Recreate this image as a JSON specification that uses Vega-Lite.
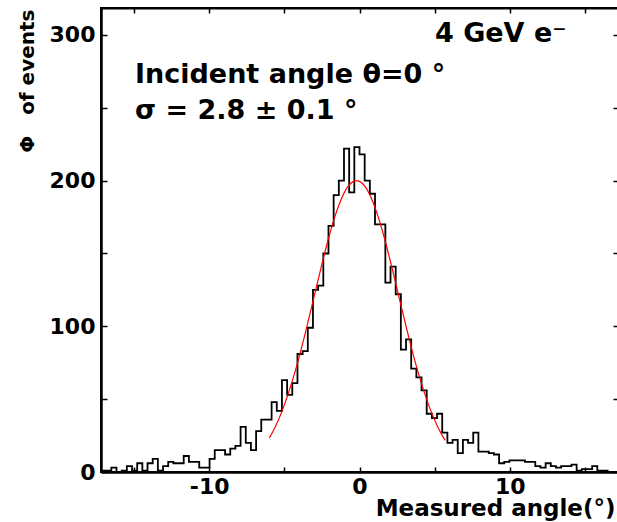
{
  "$schema": "https://vega.github.io/schema/vega-lite/v6.json",
  "width": 517,
  "height": 464,
  "autosize": {"type": "none"},
  "padding": {"left": 101, "top": 8, "right": 0, "bottom": 50},
  "background": "white",
  "config": {
    "view": {"stroke": "black", "strokeWidth": 2},
    "axis": {
      "grid": false,
      "domainColor": "black",
      "tickColor": "black",
      "labelColor": "black",
      "titleColor": "black",
      "labelFont": "DejaVu Sans",
      "titleFont": "DejaVu Sans",
      "labelFontWeight": "bold",
      "titleFontWeight": "bold"
    }
  },
  "datasets": {
    "hist": [
      {"angle": -17.2, "events": 1}, {"angle": -16.856, "events": 1}, {"angle": -16.512, "events": 3}, {"angle": -16.168, "events": 0},
      {"angle": -15.824, "events": 1}, {"angle": -15.48, "events": 4}, {"angle": -15.136, "events": 1}, {"angle": -14.792, "events": 6},
      {"angle": -14.448, "events": 1}, {"angle": -14.104, "events": 6}, {"angle": -13.76, "events": 9}, {"angle": -13.416, "events": 1},
      {"angle": -13.072, "events": 4}, {"angle": -12.728, "events": 7}, {"angle": -12.384, "events": 6}, {"angle": -12.04, "events": 6},
      {"angle": -11.696, "events": 11}, {"angle": -11.352, "events": 7}, {"angle": -11.008, "events": 7}, {"angle": -10.664, "events": 3},
      {"angle": -10.32, "events": 3}, {"angle": -9.976, "events": 9}, {"angle": -9.632, "events": 15}, {"angle": -9.288, "events": 15},
      {"angle": -8.944, "events": 12}, {"angle": -8.6, "events": 16}, {"angle": -8.256, "events": 18}, {"angle": -7.912, "events": 31},
      {"angle": -7.568, "events": 20}, {"angle": -7.224, "events": 15}, {"angle": -6.88, "events": 28}, {"angle": -6.536, "events": 36},
      {"angle": -6.192, "events": 36}, {"angle": -5.848, "events": 48}, {"angle": -5.504, "events": 42}, {"angle": -5.16, "events": 63},
      {"angle": -4.816, "events": 53}, {"angle": -4.472, "events": 61}, {"angle": -4.128, "events": 81}, {"angle": -3.784, "events": 83},
      {"angle": -3.44, "events": 99}, {"angle": -3.096, "events": 125}, {"angle": -2.752, "events": 128}, {"angle": -2.408, "events": 150},
      {"angle": -2.064, "events": 169}, {"angle": -1.72, "events": 190}, {"angle": -1.376, "events": 200}, {"angle": -1.032, "events": 222},
      {"angle": -0.688, "events": 192}, {"angle": -0.344, "events": 223}, {"angle": 0, "events": 218}, {"angle": 0.344, "events": 200},
      {"angle": 0.688, "events": 191}, {"angle": 1.032, "events": 170}, {"angle": 1.376, "events": 170}, {"angle": 1.72, "events": 130},
      {"angle": 2.064, "events": 141}, {"angle": 2.408, "events": 122}, {"angle": 2.752, "events": 84}, {"angle": 3.096, "events": 91},
      {"angle": 3.44, "events": 71}, {"angle": 3.784, "events": 65}, {"angle": 4.128, "events": 56}, {"angle": 4.472, "events": 40},
      {"angle": 4.816, "events": 37}, {"angle": 5.16, "events": 40}, {"angle": 5.504, "events": 27}, {"angle": 5.848, "events": 20},
      {"angle": 6.192, "events": 22}, {"angle": 6.536, "events": 13}, {"angle": 6.88, "events": 22}, {"angle": 7.224, "events": 20},
      {"angle": 7.568, "events": 27}, {"angle": 7.912, "events": 14}, {"angle": 8.256, "events": 14}, {"angle": 8.6, "events": 13},
      {"angle": 8.944, "events": 12}, {"angle": 9.288, "events": 6}, {"angle": 9.632, "events": 7}, {"angle": 9.976, "events": 8},
      {"angle": 10.32, "events": 8}, {"angle": 10.664, "events": 8}, {"angle": 11.008, "events": 7}, {"angle": 11.352, "events": 7},
      {"angle": 11.696, "events": 4}, {"angle": 12.04, "events": 3}, {"angle": 12.384, "events": 6}, {"angle": 12.728, "events": 4},
      {"angle": 13.072, "events": 3}, {"angle": 13.416, "events": 4}, {"angle": 13.76, "events": 4}, {"angle": 14.104, "events": 5},
      {"angle": 14.448, "events": 1}, {"angle": 14.792, "events": 2}, {"angle": 15.136, "events": 2}, {"angle": 15.48, "events": 4},
      {"angle": 15.824, "events": 1}, {"angle": 16.168, "events": 1}, {"angle": 16.512, "events": 0}, {"angle": 16.856, "events": 0},
      {"angle": 17.2, "events": 0}
    ],
    "fit": [
      {"angle": -6.0, "events": 23.4}, {"angle": -5.6, "events": 31.1}, {"angle": -5.2, "events": 40.6}, {"angle": -4.8, "events": 51.9},
      {"angle": -4.4, "events": 64.9}, {"angle": -4.0, "events": 79.6}, {"angle": -3.6, "events": 95.7}, {"angle": -3.2, "events": 112.7},
      {"angle": -2.8, "events": 130.0}, {"angle": -2.4, "events": 146.9}, {"angle": -2.0, "events": 162.7}, {"angle": -1.6, "events": 176.5},
      {"angle": -1.2, "events": 187.6}, {"angle": -0.8, "events": 195.5}, {"angle": -0.4, "events": 199.5}, {"angle": -0.2, "events": 200.0},
      {"angle": 0.0, "events": 199.5}, {"angle": 0.4, "events": 195.5}, {"angle": 0.8, "events": 187.6}, {"angle": 1.2, "events": 176.5},
      {"angle": 1.6, "events": 162.7}, {"angle": 2.0, "events": 146.9}, {"angle": 2.4, "events": 130.0}, {"angle": 2.8, "events": 112.7},
      {"angle": 3.2, "events": 95.7}, {"angle": 3.6, "events": 79.6}, {"angle": 4.0, "events": 64.9}, {"angle": 4.4, "events": 51.9},
      {"angle": 4.8, "events": 40.6}, {"angle": 5.2, "events": 31.1}, {"angle": 5.7, "events": 21.7}
    ]
  },
  "layer": [
    {
      "data": {"name": "hist"},
      "mark": {"type": "line", "interpolate": "step-after", "color": "black", "strokeWidth": 1.8, "clip": true},
      "encoding": {
        "x": {
          "field": "angle", "type": "quantitative",
          "scale": {"domain": [-17.2, 17.2], "nice": false, "zero": false},
          "axis": {
            "orient": "bottom",
            "values": [-15, -10, -5, 0, 5, 10, 15],
            "tickSize": -5, "tickWidth": 1.5,
            "domainWidth": 2.5,
            "labelPadding": 9, "labelFontSize": 22,
            "labelExpr": "datum.value % 10 == 0 ? '' + datum.value : ''",
            "title": "Measured angle(°)", "titleFontSize": 23,
            "titleAlign": "right", "titleBaseline": "alphabetic",
            "titleX": 514, "titleY": 43
          }
        },
        "y": {
          "field": "events", "type": "quantitative",
          "scale": {"domain": [0, 318.5], "nice": false, "zero": true},
          "axis": {
            "orient": "left",
            "values": [0, 50, 100, 150, 200, 250, 300],
            "tickSize": -6, "tickWidth": 1.5,
            "domainWidth": 2.5,
            "labelPadding": 12, "labelFontSize": 22,
            "labelExpr": "datum.value % 100 == 0 ? '' + datum.value : ''",
            "title": "Φ\u00a0\u00a0\u00a0of events", "titleFontSize": 20,
            "titleAngle": 270, "titleAlign": "right", "titleBaseline": "alphabetic",
            "titleX": -68, "titleY": 1
          }
        }
      }
    },
    {
      "data": {"name": "fit"},
      "mark": {"type": "line", "interpolate": "monotone", "color": "#ff0000", "strokeWidth": 1.2},
      "encoding": {
        "x": {
          "field": "angle", "type": "quantitative",
          "scale": {"domain": [-17.2, 17.2], "nice": false, "zero": false},
          "axis": {"orient": "top", "values": [-15, -10, -5, 0, 5, 10, 15], "tickSize": -5, "tickWidth": 1.5, "labels": false, "title": null, "domainWidth": 2}
        },
        "y": {
          "field": "events", "type": "quantitative",
          "scale": {"domain": [0, 318.5], "nice": false, "zero": true},
          "axis": {"orient": "right", "values": [0, 50, 100, 150, 200, 250, 300], "tickSize": -5, "tickWidth": 1.5, "labels": false, "title": null, "domainWidth": 2}
        }
      }
    },
    {
      "data": {"values": [{"label": "4 GeV e⁻"}]},
      "mark": {"type": "text", "font": "DejaVu Sans", "fontWeight": "bold", "fontSize": 27, "align": "left", "baseline": "alphabetic", "color": "black"},
      "encoding": {
        "x": {"datum": 5.02, "type": "quantitative", "scale": {"domain": [-17.2, 17.2], "nice": false, "zero": false}, "axis": null},
        "y": {"datum": 295.2, "type": "quantitative", "scale": {"domain": [0, 318.5], "nice": false, "zero": true}, "axis": null},
        "text": {"field": "label"}
      }
    },
    {
      "data": {"values": [{"label": "Incident angle θ=0 °", "ly": 267.0}, {"label": "σ = 2.8 ± 0.1 °", "ly": 242.3}]},
      "mark": {"type": "text", "font": "DejaVu Sans", "fontWeight": "bold", "fontSize": 27, "align": "left", "baseline": "alphabetic", "color": "black"},
      "encoding": {
        "x": {"datum": -14.94, "type": "quantitative", "scale": {"domain": [-17.2, 17.2], "nice": false, "zero": false}, "axis": null},
        "y": {"field": "ly", "type": "quantitative", "scale": {"domain": [0, 318.5], "nice": false, "zero": true}, "axis": null},
        "text": {"field": "label"}
      }
    }
  ],
  "resolve": {"axis": {"x": "independent", "y": "independent"}}
}
